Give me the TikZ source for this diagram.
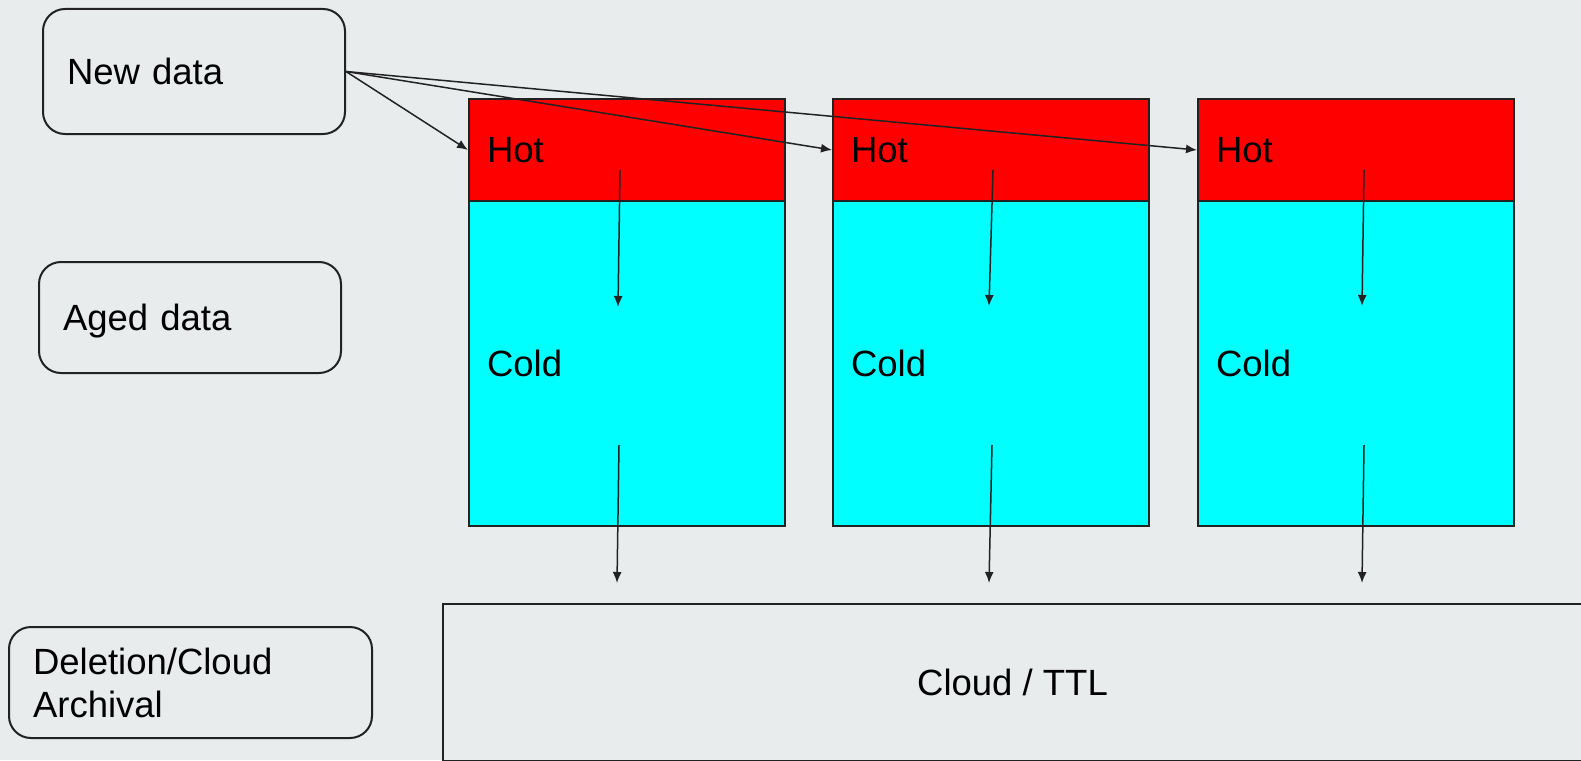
\documentclass[tikz,border=0pt]{standalone}
\usepackage{fontspec}
\setmainfont{Liberation Sans}
\usetikzlibrary{arrows.meta}
\definecolor{bg}{RGB}{232,236,237}
\definecolor{edge}{RGB}{34,34,34}
\definecolor{hotred}{RGB}{255,0,0}
\definecolor{coldcyan}{RGB}{0,255,255}
\tikzset{
  txt/.style={font=\fontsize{36.5}{43}\selectfont, text=black},
  legendbox/.style={txt, draw=edge, line width=2pt, rounded corners=22pt,
    anchor=north west, inner xsep=24pt, inner ysep=0pt, align=left},
  tier/.style={txt, draw=edge, line width=2pt, anchor=north west,
    inner xsep=18pt, inner ysep=0pt, align=left,
    minimum width=316pt, text width=280pt},
  hotbox/.style={tier, fill=hotred, minimum height=102pt},
  coldbox/.style={tier, fill=coldcyan, minimum height=325pt},
  flow/.style={draw=edge, line width=1.5pt, -{Latex[length=11pt,width=9pt]}}
}
\begin{document}
\begin{tikzpicture}[x=1pt,y=-1pt]
\useasboundingbox (0,0) rectangle (1581,760);
\fill[bg] (0,0) rectangle (1581,760);

% legend boxes on the left
\node[legendbox, minimum height=125pt, text width=254pt] (newdata) at (42,8) {New data};
\node[legendbox, minimum height=111pt, text width=254pt, text depth=0pt] (aged) at (38,261) {Aged data};
\node[legendbox, minimum height=111pt, text width=315pt] (deletion) at (8,626) {Deletion/Cloud\\Archival};

% three storage columns: hot tier above cold tier
\node[hotbox] (hot1) at (468,98) {Hot};
\node[coldbox] (cold1) at (468,200) {Cold};
\node[hotbox] (hot2) at (832,98) {Hot};
\node[coldbox] (cold2) at (832,200) {Cold};
\node[hotbox] (hot3) at (1197,98) {Hot};
\node[coldbox] (cold3) at (1197,200) {Cold};

% archive tier along the bottom
\node[txt, draw=edge, line width=2pt, anchor=north west, inner sep=0pt,
      minimum width=1139pt, minimum height=157pt] (cloud) at (442,603) {Cloud / TTL};

% ingest of new data into each hot tier
\draw[flow] (newdata.east) -- (hot1.west);
\draw[flow] (newdata.east) -- (hot2.west);
\draw[flow] (newdata.east) -- (hot3.west);

% ageing from hot to cold, then from cold to archive
\coordinate (a1s) at (620,170); \coordinate (a1e) at (618,307);
\coordinate (b1s) at (619,445); \coordinate (b1e) at (617,583);
\coordinate (a2s) at (993,170); \coordinate (a2e) at (989,306);
\coordinate (b2s) at (992,445); \coordinate (b2e) at (989,583);
\coordinate (a3s) at (1364,170); \coordinate (a3e) at (1362,306);
\coordinate (b3s) at (1364,445); \coordinate (b3e) at (1362,583);
\draw[flow] (a1s) -- (a1e);
\draw[flow] (b1s) -- (b1e);
\draw[flow] (a2s) -- (a2e);
\draw[flow] (b2s) -- (b2e);
\draw[flow] (a3s) -- (a3e);
\draw[flow] (b3s) -- (b3e);
\end{tikzpicture}
\end{document}
